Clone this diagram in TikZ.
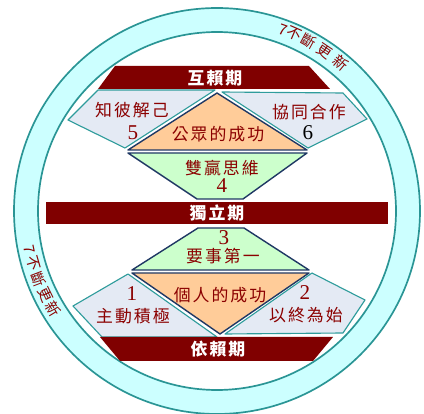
\documentclass[tikz,border=0pt]{standalone}
\usepackage{fontspec}
\usepackage{tikz}
\newfontfamily\cjk[LetterSpace=12]{Noto Sans CJK TC}
\newfontfamily\ringcjk{Noto Sans CJK TC}
\newfontfamily\numfont{Liberation Serif}
\definecolor{maroon}{HTML}{800000}
\definecolor{wordred}{HTML}{8B0000}
\definecolor{ringfill}{HTML}{CCFFFF}
\definecolor{ringline}{HTML}{2A9595}
\definecolor{panefill}{HTML}{E4EAF4}
\definecolor{paneline}{HTML}{2F9C9C}
\definecolor{corefill}{HTML}{FFCC99}
\definecolor{coreline}{HTML}{1F3864}
\definecolor{winfill}{HTML}{CCFFCC}
\tikzset{banner/.style = {fill=maroon}}
\tikzset{bannertext/.style = {text=white, font=\fontsize{12}{14}\cjk\bfseries}}
\tikzset{pane/.style = {fill=panefill, draw=paneline, line width=0.8pt, line join=round}}
\tikzset{core/.style = {fill=corefill, draw=coreline, line width=1pt, line join=round}}
\tikzset{win/.style = {fill=winfill, draw=coreline, line width=1pt, line join=round}}
\tikzset{labeltext/.style = {text=wordred, font=\fontsize{12}{14}\cjk, inner sep=0pt}}
\tikzset{numtext/.style = {text=wordred, font=\fontsize{15}{15}\numfont, inner sep=0pt}}
\tikzset{ringtext/.style = {text=wordred, font=\fontsize{10.5}{12}\ringcjk, inner sep=0pt}}

\begin{document}
\begin{tikzpicture}[x=0.025cm, y=-0.025cm]
    \useasboundingbox (0,0) rectangle (424,414);
    \coordinate (hub) at (217,211);

    % ring
    \fill [ringfill, even odd rule] (hub) circle (203) (hub) circle (179);
    \draw [ringline, line width=1.2pt] (hub) circle (203);
    \draw [ringline, line width=1.2pt] (hub) circle (179);
    \foreach \a/\ch [count=\i] in {70/7,66.5/不,61.5/斷,56/更,50/新} {
      \path (hub) ++(-\a:193) node [ringtext, rotate=\a-90] (renewtop\i) {\ch};
    }
    \foreach \a/\ch [count=\i] in {191.5/7,196/不,201/斷,206/更,211/新} {
      \path (hub) ++(-\a:191) node [ringtext, rotate=\a+90] (renewleft\i) {\ch};
    }

    % upper half
    \draw [pane] (98,90) -- (215,90) -- (125,148) -- (68,120) -- cycle;
    \draw [pane] (222,92) -- (343,93) -- (367,119) -- (308,148) -- cycle;
    \draw [core] (217,93) -- (307,150) -- (128,150) -- cycle;
    \draw [win] (128,153) -- (307,153) -- (243,199) -- (197,199) -- cycle;

    % lower half
    \draw [win] (198,228) -- (244,228) -- (309,270) -- (132,270) -- cycle;
    \draw [core] (132,273) -- (309,273) -- (220,334) -- cycle;
    \draw [pane] (128,274) -- (217,337) -- (102,337) -- (73,306) -- cycle;
    \draw [pane] (312,273) -- (365,300) -- (343,333) -- (225,334) -- cycle;

    % stages
    \fill [banner] (115,66) -- (309,66) -- (330,89) -- (98,89) -- cycle;
    \fill [banner] (46,202) rectangle (388,224);
    \fill [banner] (100,337) -- (333,337) -- (313,361) -- (120,361) -- cycle;
    \node [bannertext] (interdep) at (215,78) {互賴期};
    \node [bannertext] (indep) at (217,213) {獨立期};
    \node [bannertext] (dep) at (218,349) {依賴期};

    % habits
    \node [labeltext] (habit5) at (132,110) {知彼解己};
    \node [numtext] (num5) at (133,133) {5};
    \node [labeltext] (habit6) at (309,112) {協同合作};
    \node [numtext, text=black] (num6) at (308,133) {6};
    \node [labeltext] (public) at (218,134) {公眾的成功};
    \node [labeltext] (habit4) at (222,168) {雙贏思維};
    \node [numtext] (num4) at (222,186) {4};
    \node [numtext] (num3) at (224,238) {3};
    \node [labeltext] (habit3) at (223,256) {要事第一};
    \node [labeltext] (private) at (220,295) {個人的成功};
    \node [numtext] (num1) at (132,294) {1};
    \node [labeltext] (habit1) at (133,316) {主動積極};
    \node [numtext] (num2) at (305,293) {2};
    \node [labeltext] (habit2) at (306,315) {以終為始};
  \end{tikzpicture}
\end{document}
